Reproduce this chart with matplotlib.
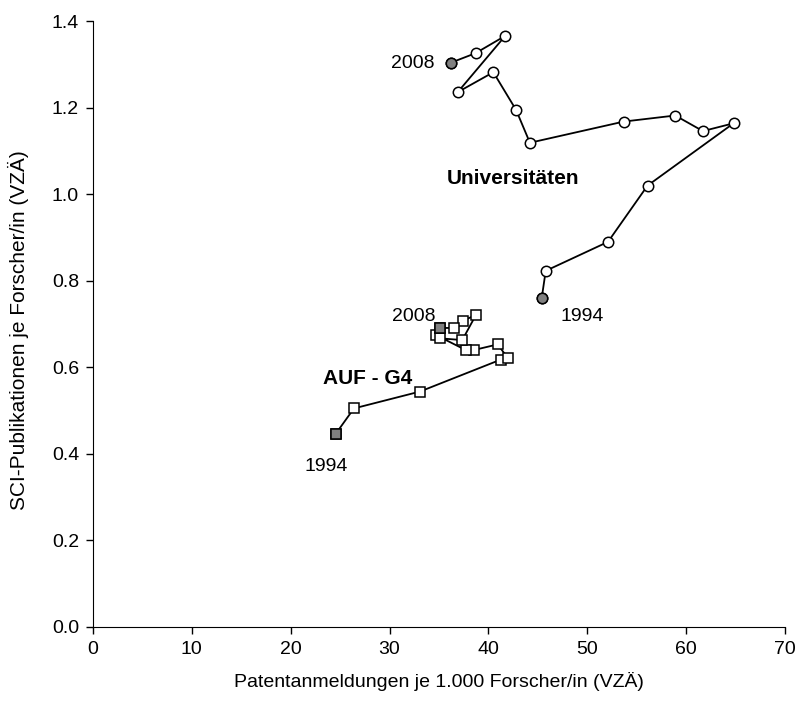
import matplotlib
matplotlib.use('Agg')
import matplotlib.pyplot as plt

plt.rcParams['font.family'] = ['Liberation Sans', 'DejaVu Sans']

# Universitäten, 1994 -> 2008
uni_x = [45.4, 45.8, 52.1, 56.1, 64.8, 61.7, 58.9, 53.7, 44.2, 42.8, 40.5, 36.9, 41.7, 38.7, 36.2]
uni_y = [0.761, 0.823, 0.890, 1.020, 1.164, 1.146, 1.182, 1.168, 1.119, 1.195, 1.282, 1.236, 1.366, 1.326, 1.304]

# AUF - G4, 1994 -> 2008
auf_x = [24.55, 26.40, 33.08, 41.27, 41.95, 40.94, 38.54, 37.70, 34.67, 35.10, 37.36, 38.74, 37.46, 36.55, 35.10]
auf_y = [0.446, 0.505, 0.544, 0.618, 0.622, 0.653, 0.640, 0.640, 0.675, 0.667, 0.663, 0.721, 0.708, 0.691, 0.691]

xticks = [0, 10, 20, 30, 40, 50, 60, 70]
yticks = [0.0, 0.2, 0.4, 0.6, 0.8, 1.0, 1.2, 1.4]

fig = plt.figure(figsize=(8.01, 7.06), dpi=100)
ax = fig.add_axes([0.116, 0.112, 0.864, 0.858])

# lines with open markers
ax.plot(uni_x, uni_y, color='black', lw=1.3, marker='o', ms=7.5,
        mfc='white', mec='black', mew=1.1, zorder=2)
ax.plot(auf_x, auf_y, color='black', lw=1.3, marker='s', ms=7,
        mfc='white', mec='black', mew=1.1, zorder=2)

# first and last years in gray
for xs, ys, m, s in [(uni_x, uni_y, 'o', 7.5), (auf_x, auf_y, 's', 7)]:
    ax.plot([xs[0], xs[-1]], [ys[0], ys[-1]], ls='none', marker=m, ms=s,
            mfc='#808080', mec='black', mew=1.1, zorder=3)

fs = 14
ax.text(34.6, 1.303, '2008', ha='right', va='center', fontsize=fs)
ax.text(49.5, 0.718, '1994', ha='center', va='center', fontsize=fs)
ax.text(42.5, 1.037, 'Universitäten', ha='center', va='center', fontsize=15, fontweight='bold')

ax.text(34.7, 0.718, '2008', ha='right', va='center', fontsize=fs)
ax.text(23.6, 0.370, '1994', ha='center', va='center', fontsize=fs)
ax.text(27.8, 0.575, 'AUF - G4', ha='center', va='center', fontsize=15, fontweight='bold')

ax.set_xlim(0, 70)
ax.set_ylim(0, 1.4)
ax.set_xticks(xticks)
ax.set_yticks(yticks)
ax.set_yticklabels([f'{v:.1f}' for v in yticks])
ax.tick_params(direction='out', length=5, width=1, labelsize=fs, pad=5)
ax.spines['top'].set_visible(False)
ax.spines['right'].set_visible(False)
ax.set_xlabel('Patentanmeldungen je 1.000 Forscher/in (VZÄ)', fontsize=fs, labelpad=10)
ax.set_ylabel('SCI-Publikationen je Forscher/in (VZÄ)', fontsize=15)
ax.yaxis.set_label_coords(-0.092, 0.49)

fig.savefig('out.png', dpi=100)
